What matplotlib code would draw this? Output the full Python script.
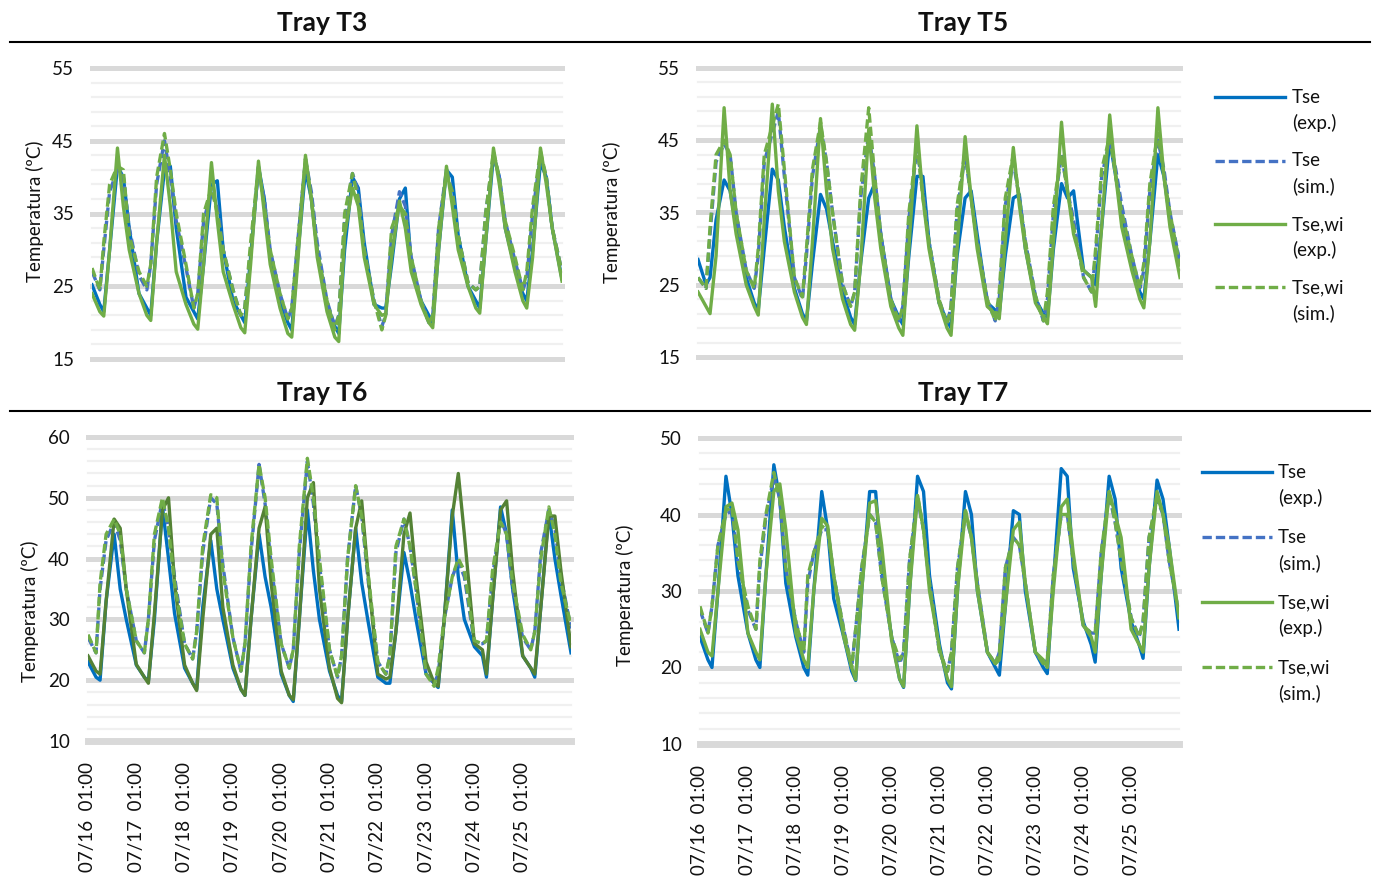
import matplotlib
matplotlib.use('Agg')
import matplotlib.pyplot as plt
from matplotlib.lines import Line2D

plt.rcParams['font.family'] = ['Lato', 'DejaVu Sans']

# values read at these hours after each day's 01:00, for 10 days, plus the last point
day_offsets = [0, 4, 6, 9, 13, 16, 19]
n_days = 10
hours = [24 * d + o for d in range(n_days) for o in day_offsets] + [24 * n_days]

day_labels = ['07/16  01:00', '07/17  01:00', '07/18  01:00', '07/19  01:00', '07/20  01:00',
              '07/21  01:00', '07/22  01:00', '07/23  01:00', '07/24  01:00', '07/25  01:00']
series_names = [('Tse', '(exp.)'), ('Tse', '(sim.)'), ('Tse,wi', '(exp.)'), ('Tse,wi', '(sim.)')]

# ---- Tray T3
t3_tse_exp = [25.2, 22.5, 21.5, 30, 41.5, 40, 33,
              24, 22, 21, 31, 41, 41.5, 33,
              23.5, 21.5, 20.5, 28, 39, 39.5, 30,
              23, 21, 20, 29, 41.5, 37, 29,
              23, 20, 19, 29, 41, 37, 30,
              22.5, 19.5, 18.5, 30, 40, 38.5, 31,
              22.5, 22, 22, 28, 37, 38.5, 28,
              23, 21, 20, 30, 41, 40, 32,
              25, 23, 22, 31, 43, 40, 33,
              27.5, 24, 23, 30, 42, 40, 33,
              26]
t3_tse_sim = [27, 24.5, 30, 38, 41, 40, 33,
              26.5, 24.5, 28, 39, 45, 40, 34,
              27.5, 22, 24, 34, 38, 36, 30,
              24.5, 21, 22, 30, 41, 37, 30,
              24, 20.5, 22, 31, 42.5, 38, 31,
              23, 19.5, 21, 34, 40.5, 38, 30,
              23, 19.5, 21, 32, 38, 36, 29,
              23, 20, 21, 33, 41, 38, 32,
              25.5, 24.5, 25, 35, 43, 40, 34,
              28.5, 24.5, 26, 35, 43, 40, 33,
              27]
t3_tsewi_exp = [24, 21.5, 20.9, 30, 44, 36, 30,
                24, 21, 20.3, 31, 43, 36, 27,
                22.5, 19.8, 19.1, 28, 42, 34, 27,
                22.5, 19.3, 18.6, 28, 42.2, 35, 28,
                22, 18.5, 18, 28, 43, 37, 29,
                21.5, 18, 17.4, 32, 38.5, 36, 29,
                22.5, 21, 21.2, 29, 36.7, 33, 27,
                22.5, 20, 19.3, 30, 41.5, 36, 30,
                25, 22, 21.3, 31, 44, 39, 33,
                27, 23, 22, 29, 44, 39, 33,
                25.7]
t3_tsewi_sim = [27.5, 24.5, 31, 39, 41.5, 41, 32,
                27, 25, 28, 40, 46, 41, 35,
                28, 22, 24, 35, 38.5, 35, 30,
                24.5, 21, 22, 31, 41.5, 36, 30,
                24, 20.5, 22, 31, 42.5, 37, 30,
                23, 19, 21, 35, 40.5, 37, 30,
                23, 19, 21, 33, 36, 35, 29,
                23, 20, 21, 33, 40.5, 38, 32,
                25.5, 24.5, 25, 35, 43.5, 40, 34,
                29, 24.5, 27, 36, 43.5, 40, 33,
                27]

# ---- Tray T5
t5_tse_exp = [28.5, 25, 26, 34, 39.5, 38, 33,
              26, 22.5, 21.5, 30, 41, 39.5, 33,
              24.5, 21, 20, 28, 37.5, 35.5, 31,
              24, 20.5, 19.5, 28, 37, 39, 32,
              23, 20.5, 19.5, 29, 40, 40, 31,
              22.5, 20, 19, 29, 37, 38, 32,
              22.5, 21.5, 21, 29, 37, 37.5, 30,
              23, 21, 20.5, 30, 39, 37, 38,
              27, 26, 25, 33, 45, 40, 35,
              28, 24, 23, 31, 43, 40, 34,
              28]
t5_tse_sim = [26, 24.5, 32, 42, 44.5, 43, 35,
              27, 24.5, 29, 42, 46, 49, 40,
              26, 23, 29, 40, 47, 42, 35,
              25, 22, 24, 37, 46, 40, 32,
              23, 20, 22, 34, 44, 38, 31,
              23, 19.5, 22, 35, 43, 37, 31,
              23, 20, 23, 36, 42, 37, 31,
              23.5, 20, 23, 35, 43, 38, 34,
              26, 24, 29, 40, 45, 41, 36,
              29, 24.5, 27, 38, 45, 41, 35,
              28]
t5_tsewi_exp = [24, 22, 21, 29, 49.5, 38, 32,
                25, 22, 20.8, 34, 50, 38, 31,
                24, 20.5, 19.5, 31, 48, 38, 30,
                23, 19.5, 18.7, 28, 46.5, 37, 30,
                22, 19, 18, 30, 47, 37, 30,
                22.5, 19, 18, 30, 45.5, 37, 30,
                22, 21, 20.3, 31, 44, 36, 30,
                22.5, 20.5, 19.6, 31, 47.5, 38, 32,
                27, 26, 22, 33, 48.5, 40, 33,
                27, 23, 21.8, 31, 49.5, 40, 33,
                26]
t5_tsewi_sim = [26, 24.5, 33, 43, 45, 43, 35,
                27, 24.5, 30, 43, 47, 50, 41,
                26, 23.3, 30, 41, 47.5, 42, 35,
                25, 22, 24, 38, 49.5, 40, 32,
                23, 20, 22, 35, 44.5, 37, 31,
                23, 19.5, 22, 36, 43.5, 37, 31,
                23, 20, 24, 37, 43, 37, 31,
                23.5, 20, 24, 36, 43, 38, 33,
                26, 24, 30, 41, 45.5, 40, 35,
                29, 24.5, 28, 39, 46, 40, 35,
                27.5]

# ---- Tray T6
t6_tse_exp = [23, 20.5, 20, 33, 44, 35, 30,
              22.5, 20.5, 19.8, 30, 48.5, 40, 31,
              22, 19.5, 18.5, 32, 43, 35, 30,
              22, 18.5, 17.5, 30, 44, 37, 32,
              21, 17.5, 16.5, 30, 48, 38, 30,
              21.5, 17.5, 16.5, 30, 45, 36, 30,
              20.5, 19.5, 19.5, 28, 41, 36, 30,
              21, 19.5, 18.8, 30, 48, 37, 30,
              25.5, 24, 20.5, 33, 48.5, 44, 35,
              24, 22, 20.5, 32, 47.5, 40, 34,
              24.5]
t6_tse_sim = [27, 24.5, 35, 43, 46, 43, 35,
              26.5, 24.5, 30, 43, 49.5, 45, 37,
              26, 23.5, 28, 41, 50, 49, 39,
              27, 21.5, 26, 41, 55.5, 49, 39,
              26, 22, 25, 41, 56, 49, 39,
              25, 20.5, 24, 40, 52, 47, 37,
              23, 21, 24, 41, 46.5, 42, 35,
              21, 19.5, 21, 30, 37, 39.5, 37,
              26, 26, 26.5, 37, 46.5, 44, 35,
              27, 25, 28, 41, 48, 45, 37,
              28.5]
t6_tsewi_exp = [24, 21.5, 21, 33, 46.5, 45, 35,
                22.6, 20.5, 19.5, 31, 48, 50, 36,
                22.5, 19.5, 18.3, 30, 44, 45, 32,
                22.5, 18.5, 17.5, 30, 45, 48.5, 36,
                21.5, 17.5, 16.8, 30, 50, 52.5, 35,
                22, 17, 16.3, 30, 45, 49.5, 38,
                21, 20.2, 20.5, 28, 44, 47.5, 37,
                23, 19.5, 19, 30, 47, 54, 44,
                26, 25, 21, 33, 48, 49.5, 38,
                24, 22, 21, 32, 47, 47, 38,
                25.5]
t6_tsewi_sim = [27.5, 24.5, 36, 44, 46.5, 44, 35,
                26.5, 24.5, 30, 44, 50, 45, 36,
                26, 23.5, 28, 42, 50.5, 50, 38,
                27, 21.5, 26, 42, 55.5, 50, 40,
                26, 22, 25, 42, 56.5, 50, 40,
                25, 20.5, 24, 40, 52, 47, 38,
                23, 21, 24, 42, 46.5, 42, 35,
                21, 19, 22, 30, 37, 40, 38,
                26.5, 26, 26.5, 38, 46, 44, 36,
                27.5, 25, 28, 40, 48.5, 44, 36,
                29]

# ---- Tray T7
t7_tse_exp = [24, 21, 20, 30, 45, 40, 32,
              24.5, 21, 20, 32, 46.5, 42, 31,
              24, 20, 19, 30, 43, 38, 29,
              24, 19.5, 18.3, 30, 43, 43, 33,
              24, 18.5, 17.4, 30, 45, 43, 32,
              23, 18, 17.2, 30, 43, 40, 30,
              22, 20, 19, 28, 40.5, 40, 30,
              22, 20, 19.2, 31, 46, 45, 33,
              26, 23, 20.7, 32, 45, 42, 33,
              26, 23, 21.2, 33, 44.5, 42, 36,
              25]
t7_tse_sim = [27.5, 24.5, 28, 36, 40, 40.5, 34,
              27.5, 25, 33, 39.5, 45, 42, 33,
              26, 22, 31, 35, 38, 38, 32,
              25, 20, 25, 33, 40, 39, 32,
              24, 20.5, 22, 34, 42, 38, 31,
              22, 19.5, 22, 33, 40, 37, 31,
              22, 20.5, 22, 33, 37, 36, 31,
              22, 20.5, 21, 32, 40, 40, 34,
              25.5, 24.5, 24.5, 35, 42.5, 39, 34,
              26.5, 24, 26, 37, 42, 40, 34,
              27]
t7_tsewi_exp = [25, 22, 21.5, 30, 41, 41.5, 38,
                24.5, 22, 21, 32, 43, 44, 38,
                24.5, 21, 20, 30, 39.5, 38.5, 32,
                24, 20, 18.4, 30, 41.5, 41.8, 36,
                23.5, 18.5, 17.5, 30, 42.5, 38, 30,
                22.5, 18.5, 17.5, 30, 40.5, 37, 30,
                22, 20.5, 21, 28, 38, 39, 31,
                22, 21, 20, 30, 41, 42, 35,
                25.5, 24, 22, 32, 43, 40, 37,
                25, 23, 22, 33, 43, 40, 36,
                26.5]
t7_tsewi_sim = [28, 24.5, 28, 36, 40.5, 41, 34,
                28, 25, 34, 40, 45.5, 42, 33,
                26, 22, 32, 35, 38.5, 38, 32,
                25, 20, 25, 33, 40, 39, 32,
                24, 21, 22, 34, 42.5, 38, 31,
                22, 19.5, 22, 33, 40.5, 37, 31,
                22, 20.5, 22, 33, 37, 36, 31,
                22, 20.5, 21, 32, 40, 40, 34,
                25.5, 24.5, 24.5, 35, 43, 39, 34,
                26.5, 24, 26, 37, 42.5, 40, 34,
                27]

W, H = 1378, 877
BLUE = '#0070C0'
BLUE_SIM = '#4472C4'
GREEN = '#70AD47'
DARK_GREEN = '#548235'
DASH = (2.8, 1.2)
TXT = '#111111'
FS = 13.5


def fx(x):
    return x / W


def fy(y):
    return 1 - y / H


panels = [
    # title, (left, top, right, bottom) px, ylim, data, green for exp, x labels, title pos, ylabel pos, legend
    ('Tray T3', (92, 68, 562, 359), (15, 55), (t3_tse_exp, t3_tse_sim, t3_tsewi_exp, t3_tsewi_sim),
     GREEN, False, (322, 23), (35, 211), None),
    ('Tray T5', (698, 68, 1180, 357), (15, 55), (t5_tse_exp, t5_tse_sim, t5_tsewi_exp, t5_tsewi_sim),
     GREEN, False, (963, 23), (612, 212), (1215, 1285, 97, 63.5, 1292)),
    ('Tray T6', (88, 437, 571, 741), (10, 60), (t6_tse_exp, t6_tse_sim, t6_tsewi_exp, t6_tsewi_sim),
     DARK_GREEN, True, (322, 393), (30, 611), None),
    ('Tray T7', (700, 438, 1179, 744), (10, 50), (t7_tse_exp, t7_tse_sim, t7_tsewi_exp, t7_tsewi_sim),
     GREEN, True, (963, 393), (625, 595), (1202, 1272, 472, 65, 1278)),
]

fig = plt.figure(figsize=(W / 100, H / 100), dpi=100)

for title, (l, t, r, b), (lo, hi), data, wi_col, xlab, tpos, ypos, leg in panels:
    ax = fig.add_axes([fx(l), fy(b), fx(r) - fx(l), fy(t) - fy(b)])
    ax.set_xlim(0, 24 * n_days)
    ax.set_ylim(lo, hi)
    for sp in ax.spines.values():
        sp.set_visible(False)

    # gridlines, every 2 degrees, heavier every 10
    for v in range(lo, hi + 1, 2):
        if v == lo and xlab:
            ax.axhline(v, color='#D9D9D9', lw=5, zorder=0, clip_on=False)
        elif (v - lo) % 10 == 0:
            ax.axhline(v, color='#D9D9D9', lw=3.6, zorder=0, clip_on=False)
        else:
            ax.axhline(v, color='#F0F0F0', lw=1.6, zorder=0, clip_on=False)

    styles = [(BLUE, '-'), (BLUE_SIM, '--'), (wi_col, '-'), (GREEN, '--')]
    for k, (vals, (col, ls)) in enumerate(zip(data, styles)):
        line, = ax.plot(hours, vals, color=col, lw=2.4, zorder=2 + k, solid_joinstyle='round')
        if ls == '--':
            line.set_dashes(DASH)

    ax.set_yticks(range(lo, hi + 1, 10))
    ax.tick_params(axis='y', length=0, pad=13, labelsize=FS, labelcolor=TXT)
    if xlab:
        ax.set_xticks(range(0, 24 * n_days, 24))
        ax.set_xticklabels(day_labels, rotation=90, fontsize=FS, color=TXT)
        ax.tick_params(axis='x', length=0, pad=15)
    else:
        ax.set_xticks([])

    fig.text(fx(tpos[0]), fy(tpos[1]), title, ha='center', va='center',
             fontsize=19, fontweight='bold', color=TXT)
    fig.text(fx(ypos[0]), fy(ypos[1]), 'Temperatura (ºC)', rotation=90,
             ha='center', va='center', fontsize=FS, color=TXT)

    if leg is not None:
        x0, x1, y0, step, tx = leg
        for k, ((n1, n2), (col, ls)) in enumerate(zip(series_names, styles)):
            if k == 2:
                col = GREEN
            yy = y0 + k * step
            ln = Line2D([fx(x0), fx(x1)], [fy(yy), fy(yy)], color=col, lw=2.4)
            if ls == '--':
                ln.set_dashes(DASH)
            fig.add_artist(ln)
            fig.text(fx(tx), fy(yy + 6), n1, ha='left', va='baseline', fontsize=FS, color=TXT)
            fig.text(fx(tx), fy(yy + 32), n2, ha='left', va='baseline', fontsize=FS, color=TXT)

# black rules under the panel titles
for yy in (42, 411):
    fig.add_artist(Line2D([fx(10), fx(1370)], [fy(yy), fy(yy)], color='black', lw=1.5))

fig.savefig('out.png', dpi=100, facecolor='white')
